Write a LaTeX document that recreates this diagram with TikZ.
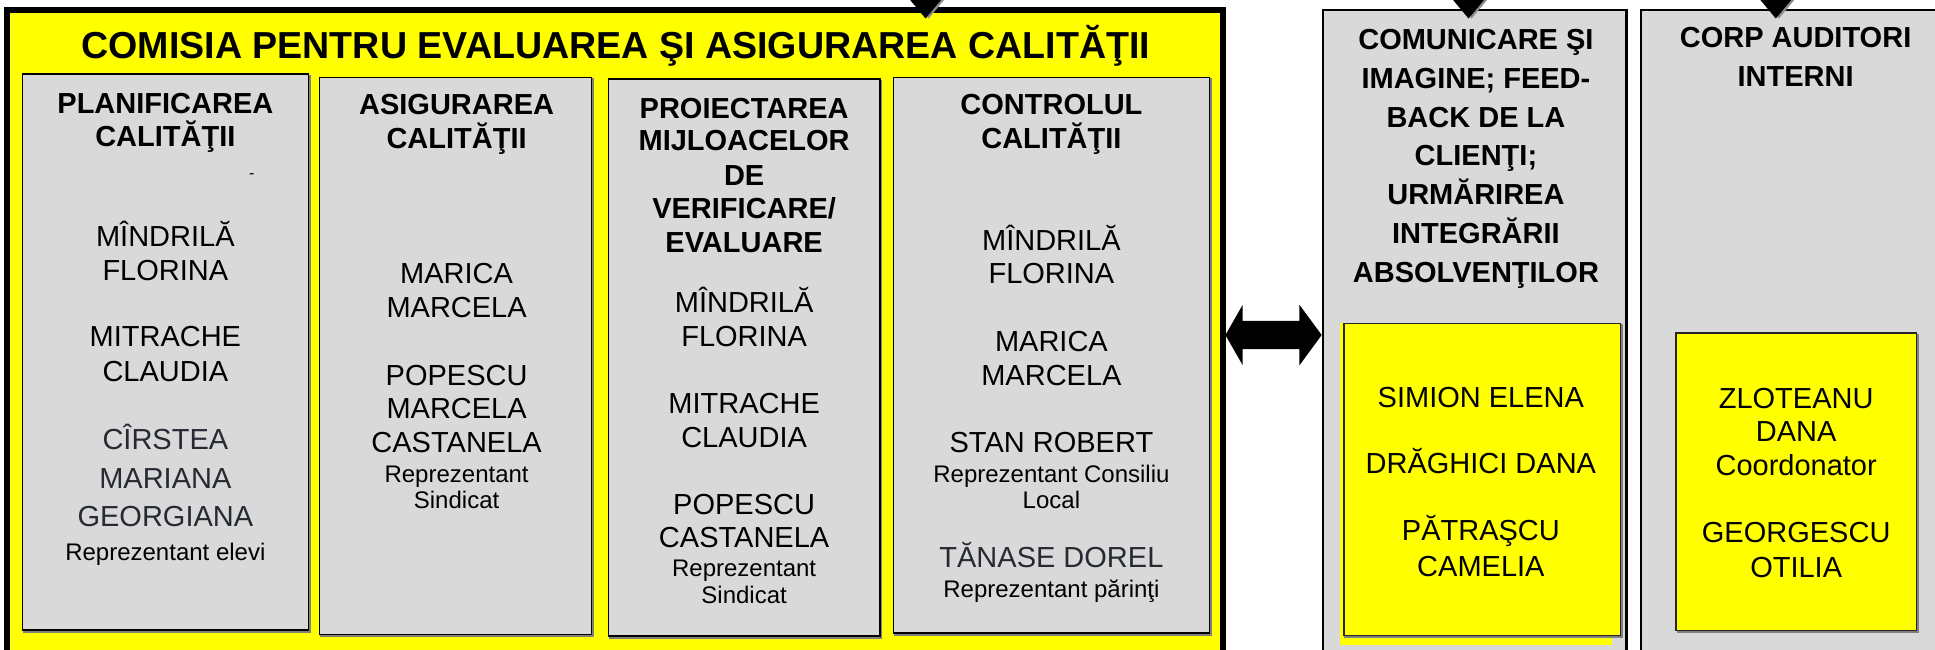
\documentclass[tikz,border=0pt]{standalone}
\usepackage{fontspec}
\setmainfont{Liberation Sans}
\definecolor{yel}{RGB}{255,255,0}
\definecolor{boxgray}{RGB}{217,217,217}
\definecolor{dtext}{RGB}{38,42,50}
\newcommand\mygbox[4]{%
  \draw[black!50,line width=1pt] (#1+1.3,#2+1.3) rectangle (#3+1.3,#4+1.3);
  \filldraw[fill=boxgray,draw=black,line width=0.7pt] (#1,#2) rectangle (#3,#4);}
\newcommand\mytri[1]{%
  \fill[black!45] (#1-15,-6) -- (#1+20,-6) -- (#1+2.5,15) -- cycle;
  \fill[black] (#1-17.5,-6) -- (#1+17.5,-6) -- (#1,15) -- cycle;}
\begin{document}
\begin{tikzpicture}[x=0.617pt,y=-0.617pt,
  hd/.style={font=\fontsize{14.5}{17}\selectfont\bfseries,anchor=base,inner sep=0pt},
  nm/.style={font=\fontsize{14.5}{17}\selectfont,anchor=base,inner sep=0pt},
  sm/.style={font=\fontsize{12}{13}\selectfont,anchor=base,inner sep=0pt}]
\useasboundingbox (0,0) rectangle (1568,526);
\fill[white] (0,0) rectangle (1568,526);
\begin{scope}
\clip (0,0) rectangle (1568,526);
% main frame
\fill[yel] (6,8) rectangle (991,560);
\draw[black,line width=3pt] (6,8) rectangle (991,560);
\node[font=\fontsize{18.8}{20}\selectfont\bfseries,anchor=base,inner sep=0pt] (title) at (499,47.3) {COMISIA PENTRU EVALUAREA ŞI ASIGURAREA CALITĂŢII};
% inner gray boxes
\mygbox{18}{60}{250}{510.5}
\mygbox{259}{62.7}{479.5}{514}
\mygbox{493}{64}{713}{515.5}
\mygbox{724}{62.7}{980}{513}
% box 1
\node[hd] (h1a) at (134,91.6) {PLANIFICAREA};
\node[hd] (h1b) at (134,119) {CALITĂŢII};
\node[font=\fontsize{8}{9}\selectfont,inner sep=0pt] (dash1) at (204,143) {-};
\node[nm] (n1a) at (134,200) {MÎNDRILĂ};
\node[nm] (n1b) at (134,227.5) {FLORINA};
\node[nm] (n1c) at (134,281) {MITRACHE};
\node[nm] (n1d) at (134,309) {CLAUDIA};
\node[nm,text=dtext] (n1e) at (134,364) {CÎRSTEA};
\node[nm,text=dtext] (n1f) at (134,396) {MARIANA};
\node[nm,text=dtext] (n1g) at (134,427) {GEORGIANA};
\node[sm] (s1a) at (134,454) {Reprezentant elevi};
% box 2
\node[hd] (h2a) at (370,93) {ASIGURAREA};
\node[hd] (h2b) at (370,120) {CALITĂŢII};
\node[nm] (n2a) at (370,230) {MARICA};
\node[nm] (n2b) at (370,257) {MARCELA};
\node[nm] (n2c) at (370,312) {POPESCU};
\node[nm] (n2d) at (370,339) {MARCELA};
\node[nm] (n2e) at (370,367) {CASTANELA};
\node[sm] (s2a) at (370,390.6) {Reprezentant};
\node[sm] (s2b) at (370,412) {Sindicat};
% box 3
\node[hd] (h3a) at (603,96) {PROIECTAREA};
\node[hd] (h3b) at (603,122) {MIJLOACELOR};
\node[hd] (h3c) at (603,150) {DE};
\node[hd] (h3d) at (603,177) {VERIFICARE/};
\node[hd] (h3e) at (603,205) {EVALUARE};
\node[nm] (n3a) at (603,253.6) {MÎNDRILĂ};
\node[nm] (n3b) at (603,280.5) {FLORINA};
\node[nm] (n3c) at (603,335) {MITRACHE};
\node[nm] (n3d) at (603,363) {CLAUDIA};
\node[nm] (n3e) at (603,417) {POPESCU};
\node[nm] (n3f) at (603,444) {CASTANELA};
\node[sm] (s3a) at (603,467.5) {Reprezentant};
\node[sm] (s3b) at (603,489) {Sindicat};
% box 4
\node[hd] (h4a) at (852,93) {CONTROLUL};
\node[hd] (h4b) at (852,120) {CALITĂŢII};
\node[nm] (n4a) at (852,202.6) {MÎNDRILĂ};
\node[nm] (n4b) at (852,230) {FLORINA};
\node[nm] (n4c) at (852,285) {MARICA};
\node[nm] (n4d) at (852,312) {MARCELA};
\node[nm] (n4e) at (852,367) {STAN ROBERT};
\node[sm] (s4a) at (852,390.6) {Reprezentant Consiliu};
\node[sm] (s4b) at (852,412) {Local};
\node[nm,text=dtext] (n4f) at (852,460) {TĂNASE DOREL};
\node[sm] (s4c) at (852,484) {Reprezentant părinţi};
% right box A
\filldraw[fill=boxgray,draw=black,line width=1.1pt] (1072,8) rectangle (1318,560);
\node[hd] (hAa) at (1196,40) {COMUNICARE ŞI};
\node[hd] (hAb) at (1196,71.5) {IMAGINE; FEED-};
\node[hd] (hAc) at (1196,103) {BACK DE LA};
\node[hd] (hAd) at (1196,134.5) {CLIENŢI;};
\node[hd] (hAe) at (1196,166) {URMĂRIREA};
\node[hd] (hAf) at (1196,197.5) {INTEGRĂRII};
\node[hd] (hAg) at (1196,229) {ABSOLVENŢILOR};
\fill[yel] (1086,262) rectangle (1306,523);
\draw[black!50,line width=1pt] (1090,263.5) rectangle (1314.5,516.5);
\filldraw[fill=yel,draw=black!85,line width=0.7pt] (1089,262) rectangle (1313,515);
\node[nm] (yA1) at (1200,330) {SIMION ELENA};
\node[nm] (yA2) at (1200,384) {DRĂGHICI DANA};
\node[nm] (yA3) at (1200,438) {PĂTRAŞCU};
\node[nm] (yA4) at (1200,467) {CAMELIA};
% right box B
\filldraw[fill=boxgray,draw=black,line width=1.1pt] (1330,8) rectangle (1600,560);
\node[hd] (hBa) at (1455,38.5) {CORP AUDITORI};
\node[hd] (hBb) at (1455,70) {INTERNI};
\draw[black!50,line width=1pt] (1359.5,271.5) rectangle (1554.5,512.5);
\filldraw[fill=yel,draw=black!85,line width=0.7pt] (1358,270) rectangle (1553,511);
\node[nm] (yB1) at (1455.5,331) {ZLOTEANU};
\node[nm] (yB2) at (1455.5,358) {DANA};
\node[nm] (yB3) at (1455.5,385) {Coordonator};
\node[nm] (yB4) at (1455.5,440) {GEORGESCU};
\node[nm] (yB5) at (1455.5,468) {OTILIA};
% double arrow between frame and box A
\fill[black] (993,271.5) -- (1007,247) -- (1007,260) -- (1053,260) -- (1053,247)
  -- (1071,271.5) -- (1053,296) -- (1053,283) -- (1007,283) -- (1007,296) -- cycle;
% incoming triangles at the top
\mytri{750}
\mytri{1190}
\mytri{1439}
\end{scope}
\end{tikzpicture}
\end{document}
